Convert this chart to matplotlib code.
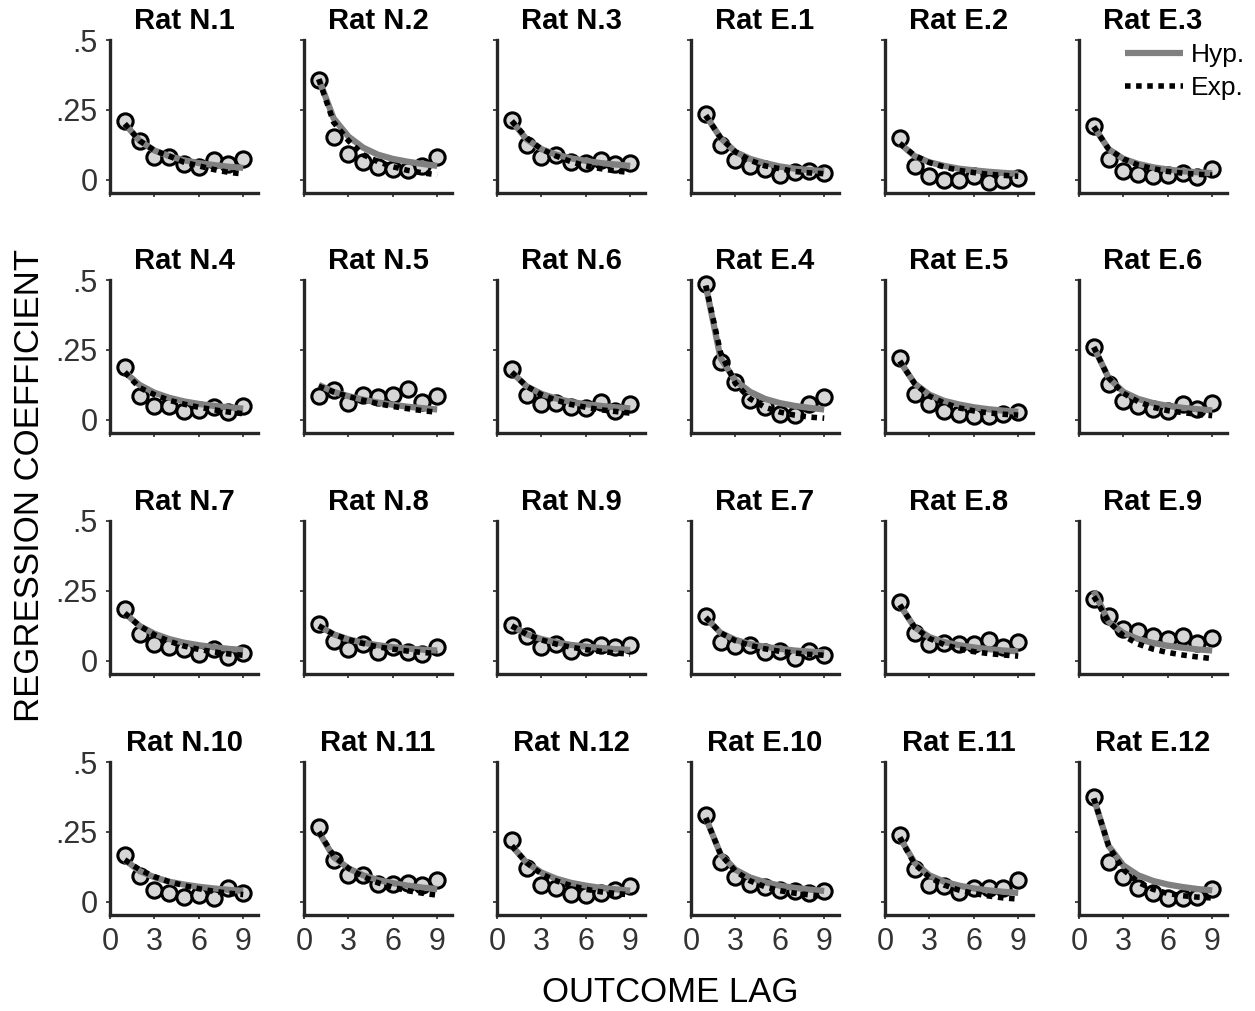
import matplotlib
matplotlib.use("Agg")
import matplotlib.pyplot as plt
import numpy as np

plt.rcParams['font.family'] = ['Liberation Sans', 'DejaVu Sans']

lags = [1, 2, 3, 4, 5, 6, 7, 8, 9]

rat_names = [
    "Rat N.1", "Rat N.2", "Rat N.3", "Rat E.1", "Rat E.2", "Rat E.3",
    "Rat N.4", "Rat N.5", "Rat N.6", "Rat E.4", "Rat E.5", "Rat E.6",
    "Rat N.7", "Rat N.8", "Rat N.9", "Rat E.7", "Rat E.8", "Rat E.9",
    "Rat N.10", "Rat N.11", "Rat N.12", "Rat E.10", "Rat E.11", "Rat E.12",
]

# observed regression coefficients (circles)
observed = [
    [0.21, 0.14, 0.08, 0.083, 0.057, 0.045, 0.07, 0.057, 0.075],
    [0.358, 0.152, 0.093, 0.063, 0.045, 0.04, 0.036, 0.05, 0.08],
    [0.214, 0.126, 0.083, 0.09, 0.063, 0.06, 0.071, 0.057, 0.06],
    [0.236, 0.123, 0.071, 0.051, 0.039, 0.018, 0.027, 0.031, 0.025],
    [0.149, 0.051, 0.012, 0.0, 0.0, 0.015, -0.008, -0.002, 0.006],
    [0.194, 0.075, 0.031, 0.021, 0.015, 0.019, 0.025, 0.01, 0.039],
    [0.19, 0.087, 0.051, 0.051, 0.031, 0.036, 0.045, 0.027, 0.051],
    [0.087, 0.105, 0.06, 0.09, 0.081, 0.09, 0.11, 0.063, 0.087],
    [0.182, 0.09, 0.055, 0.06, 0.045, 0.043, 0.063, 0.033, 0.057],
    [0.486, 0.206, 0.135, 0.071, 0.045, 0.021, 0.019, 0.057, 0.083],
    [0.221, 0.093, 0.055, 0.033, 0.021, 0.012, 0.012, 0.021, 0.027],
    [0.262, 0.129, 0.069, 0.048, 0.039, 0.031, 0.055, 0.039, 0.06],
    [0.187, 0.095, 0.06, 0.048, 0.042, 0.024, 0.042, 0.015, 0.027],
    [0.133, 0.071, 0.042, 0.06, 0.03, 0.051, 0.033, 0.026, 0.048],
    [0.129, 0.089, 0.048, 0.06, 0.036, 0.051, 0.056, 0.048, 0.056],
    [0.161, 0.069, 0.054, 0.057, 0.03, 0.036, 0.01, 0.036, 0.021],
    [0.211, 0.101, 0.06, 0.065, 0.062, 0.062, 0.074, 0.048, 0.068],
    [0.22, 0.161, 0.113, 0.107, 0.089, 0.077, 0.089, 0.065, 0.083],
    [0.167, 0.093, 0.042, 0.033, 0.018, 0.026, 0.014, 0.048, 0.03],
    [0.268, 0.149, 0.095, 0.095, 0.065, 0.065, 0.068, 0.062, 0.077],
    [0.22, 0.121, 0.06, 0.048, 0.027, 0.024, 0.03, 0.042, 0.056],
    [0.31, 0.143, 0.089, 0.065, 0.054, 0.042, 0.038, 0.033, 0.038],
    [0.238, 0.119, 0.06, 0.056, 0.036, 0.051, 0.051, 0.051, 0.077],
    [0.375, 0.143, 0.089, 0.048, 0.032, 0.012, 0.014, 0.018, 0.045],
]

# hyperbolic model fit (grey solid)
hyp_fit = [
    [0.2, 0.14, 0.105, 0.085, 0.07, 0.06, 0.053, 0.047, 0.043],
    [0.36, 0.22, 0.155, 0.115, 0.09, 0.075, 0.065, 0.057, 0.05],
    [0.21, 0.145, 0.11, 0.09, 0.077, 0.068, 0.06, 0.055, 0.05],
    [0.23, 0.15, 0.1, 0.075, 0.06, 0.048, 0.04, 0.035, 0.031],
    [0.13, 0.085, 0.063, 0.05, 0.04, 0.034, 0.029, 0.025, 0.022],
    [0.19, 0.11, 0.075, 0.057, 0.045, 0.037, 0.031, 0.027, 0.024],
    [0.17, 0.125, 0.097, 0.079, 0.066, 0.057, 0.05, 0.045, 0.04],
    [0.125, 0.1, 0.085, 0.072, 0.062, 0.054, 0.047, 0.042, 0.037],
    [0.17, 0.12, 0.093, 0.076, 0.064, 0.056, 0.05, 0.045, 0.041],
    [0.48, 0.22, 0.14, 0.1, 0.075, 0.06, 0.05, 0.043, 0.037],
    [0.21, 0.13, 0.09, 0.068, 0.055, 0.045, 0.038, 0.033, 0.029],
    [0.26, 0.15, 0.1, 0.075, 0.06, 0.05, 0.043, 0.038, 0.034],
    [0.17, 0.125, 0.097, 0.078, 0.065, 0.056, 0.049, 0.043, 0.039],
    [0.125, 0.095, 0.077, 0.065, 0.056, 0.049, 0.044, 0.04, 0.037],
    [0.125, 0.095, 0.078, 0.066, 0.057, 0.051, 0.046, 0.042, 0.039],
    [0.155, 0.1, 0.075, 0.06, 0.05, 0.043, 0.037, 0.033, 0.03],
    [0.2, 0.12, 0.085, 0.067, 0.056, 0.048, 0.042, 0.037, 0.034],
    [0.25, 0.14, 0.1, 0.078, 0.064, 0.054, 0.047, 0.041, 0.037],
    [0.15, 0.11, 0.088, 0.072, 0.062, 0.054, 0.048, 0.043, 0.039],
    [0.25, 0.16, 0.12, 0.095, 0.078, 0.067, 0.058, 0.051, 0.046],
    [0.2, 0.14, 0.105, 0.083, 0.068, 0.058, 0.05, 0.045, 0.04],
    [0.3, 0.17, 0.115, 0.087, 0.07, 0.058, 0.05, 0.044, 0.039],
    [0.23, 0.14, 0.095, 0.072, 0.058, 0.048, 0.041, 0.036, 0.032],
    [0.37, 0.2, 0.13, 0.095, 0.075, 0.062, 0.053, 0.046, 0.041],
]

# exponential model fit (black dotted)
exp_fit = [
    [0.2, 0.14, 0.105, 0.085, 0.063, 0.05, 0.037, 0.027, 0.021],
    [0.36, 0.206, 0.14, 0.09, 0.065, 0.047, 0.034, 0.025, 0.018],
    [0.21, 0.15, 0.11, 0.085, 0.065, 0.05, 0.04, 0.032, 0.026],
    [0.23, 0.15, 0.1, 0.07, 0.05, 0.04, 0.03, 0.025, 0.022],
    [0.13, 0.087, 0.062, 0.046, 0.034, 0.026, 0.02, 0.016, 0.013],
    [0.19, 0.11, 0.075, 0.053, 0.04, 0.03, 0.024, 0.02, 0.017],
    [0.17, 0.115, 0.09, 0.07, 0.056, 0.045, 0.036, 0.028, 0.022],
    [0.12, 0.1, 0.083, 0.07, 0.058, 0.048, 0.04, 0.033, 0.027],
    [0.17, 0.12, 0.09, 0.07, 0.055, 0.045, 0.036, 0.03, 0.024],
    [0.48, 0.24, 0.13, 0.075, 0.045, 0.028, 0.017, 0.01, 0.006],
    [0.21, 0.13, 0.085, 0.06, 0.043, 0.032, 0.025, 0.02, 0.017],
    [0.26, 0.15, 0.095, 0.065, 0.045, 0.033, 0.026, 0.02, 0.015],
    [0.17, 0.125, 0.093, 0.07, 0.053, 0.041, 0.032, 0.025, 0.02],
    [0.125, 0.095, 0.076, 0.062, 0.05, 0.042, 0.035, 0.03, 0.026],
    [0.125, 0.095, 0.075, 0.06, 0.049, 0.04, 0.034, 0.028, 0.024],
    [0.155, 0.1, 0.072, 0.055, 0.043, 0.034, 0.028, 0.023, 0.02],
    [0.2, 0.12, 0.08, 0.058, 0.043, 0.033, 0.026, 0.021, 0.017],
    [0.23, 0.14, 0.09, 0.06, 0.042, 0.03, 0.021, 0.014, 0.008],
    [0.15, 0.115, 0.09, 0.072, 0.058, 0.047, 0.038, 0.031, 0.026],
    [0.25, 0.165, 0.12, 0.09, 0.068, 0.052, 0.04, 0.031, 0.024],
    [0.2, 0.14, 0.1, 0.075, 0.058, 0.045, 0.036, 0.03, 0.025],
    [0.3, 0.17, 0.11, 0.075, 0.054, 0.04, 0.031, 0.025, 0.02],
    [0.23, 0.135, 0.088, 0.06, 0.042, 0.03, 0.021, 0.014, 0.01],
    [0.37, 0.2, 0.115, 0.07, 0.045, 0.03, 0.022, 0.017, 0.014],
]

x_ticks = [0, 3, 6, 9]
x_ticklabels = ["0", "3", "6", "9"]
y_ticks = [0, 0.25, 0.5]
y_ticklabels = ["0", ".25", ".5"]

W, H = 1255, 1011
fig = plt.figure(figsize=(W / 100, H / 100), dpi=100)

col_left = [110, 304, 497, 691, 885, 1079]
row_top = [40, 280, 521, 762]
ax_w, ax_h = 148, 153
spine_c = '#262626'

for i, name in enumerate(rat_names):
    r, c = divmod(i, 6)
    left = col_left[c] / W
    bottom = 1 - (row_top[r] + ax_h) / H
    ax = fig.add_axes([left, bottom, ax_w / W, ax_h / H])
    ax.plot(lags, observed[i], 'o', ms=11, mfc='#d6d6d6', mec='black',
            mew=2.2, zorder=2, clip_on=False)
    h_line, = ax.plot(lags, hyp_fit[i], '-', color='#808080', lw=4.5,
                      zorder=3, solid_capstyle='butt', label='Hyp.')
    e_line, = ax.plot(lags, exp_fit[i], color='black', lw=4.0,
                      dashes=(1.0, 1.0), dash_capstyle='butt', zorder=4,
                      label='Exp.')
    ax.set_xlim(0, 10)
    ax.set_ylim(-0.047, 0.5)
    for s in ['top', 'right']:
        ax.spines[s].set_visible(False)
    for s in ['left', 'bottom']:
        ax.spines[s].set_linewidth(2.4)
        ax.spines[s].set_color(spine_c)
    ax.set_xticks(x_ticks)
    ax.set_yticks(y_ticks)
    ax.tick_params(direction='out', length=3, width=1.2, color=spine_c,
                   labelsize=22, labelcolor='#333333', pad=6)
    if r == 3:
        ax.set_xticklabels(x_ticklabels)
    else:
        ax.set_xticklabels([])
    if c == 0:
        ax.set_yticklabels(y_ticklabels)
    else:
        ax.set_yticklabels([])
    ax.set_title(name, fontsize=21, fontweight='bold', pad=8)
    if i == 5:
        ax.legend(handles=[h_line, e_line], loc='upper right',
                  bbox_to_anchor=(1.12, 0.98), frameon=False, fontsize=19,
                  handlelength=2.2, handletextpad=0.3, labelspacing=0.35,
                  borderpad=0, borderaxespad=0)

fig.text(30 / W, 1 - 485 / H, 'REGRESSION COEFFICIENT', rotation=90,
         ha='center', va='center', fontsize=25)
fig.text(670 / W, 1 - 993 / H, 'OUTCOME LAG', ha='center', va='center',
         fontsize=25)

fig.savefig('out.png', dpi=100)
